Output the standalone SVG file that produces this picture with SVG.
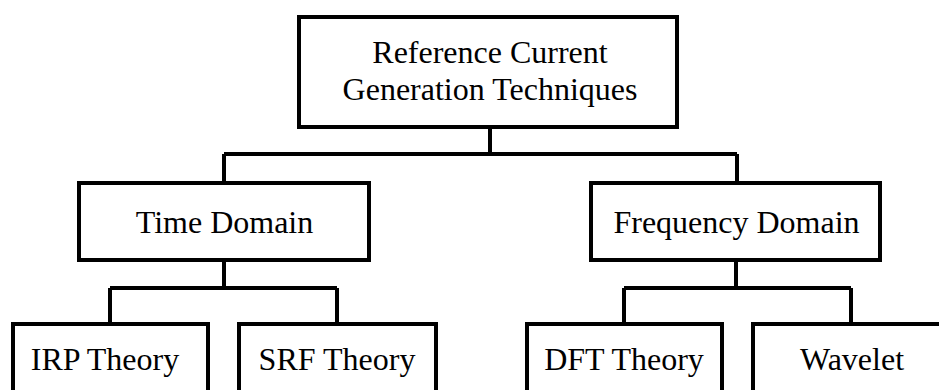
<svg xmlns="http://www.w3.org/2000/svg" width="939" height="390" viewBox="0 0 939 390">
<style>
.box{fill:#fff;stroke:#000;stroke-width:4}
.conn{fill:none;stroke:#000;stroke-width:4}
text{font-family:"Liberation Serif","Times New Roman",serif;font-size:32px;fill:#000;text-anchor:middle}
</style>
<rect width="939" height="390" fill="#fff"/>
<g id="connectors">
<path class="conn" d="M490 127V154M224 154H737M224 154V183M737 154V183"/>
<path class="conn" d="M224 260V288M110 288H337M110 288V324M337 288V324"/>
<path class="conn" d="M736 260V288M624 288H851M624 288V324M851 288V324"/>
</g>
<g id="root">
<rect class="box" x="299" y="17" width="378" height="110"/>
<text x="490" y="63">Reference Current</text>
<text x="490" y="100">Generation Techniques</text>
</g>
<g id="time">
<rect class="box" x="79" y="183" width="290" height="77"/>
<text x="224.5" y="233">Time Domain</text>
</g>
<g id="freq">
<rect class="box" x="591" y="183" width="289" height="77"/>
<text x="736.5" y="233">Frequency Domain</text>
</g>
<g id="irp">
<rect class="box" x="13" y="324" width="195" height="90"/>
<text x="105" y="370">IRP Theory</text>
</g>
<g id="srf">
<rect class="box" x="239" y="324" width="197" height="90"/>
<text x="337" y="370">SRF Theory</text>
</g>
<g id="dft">
<rect class="box" x="527" y="324" width="195" height="90"/>
<text x="624" y="370">DFT Theory</text>
</g>
<g id="wavelet">
<rect class="box" x="753" y="324" width="198" height="90"/>
<text x="852" y="370">Wavelet</text>
</g>
</svg>
